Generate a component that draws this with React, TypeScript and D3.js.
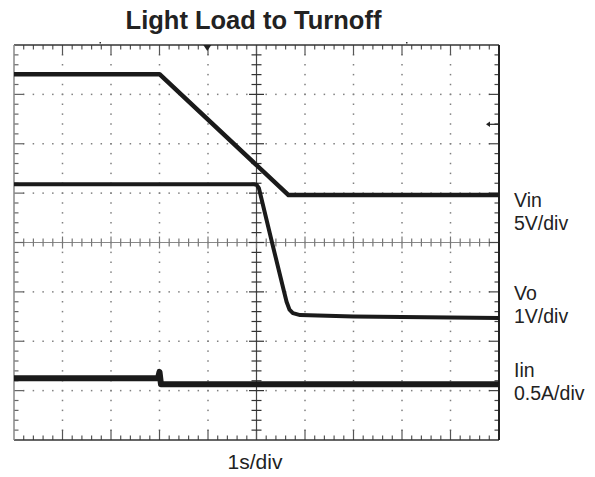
import React from "react";
import * as d3 from "d3";

// Time in seconds (1 s/div), levels in screen divisions (center = 0)
const vinT = [0, 3.0, 5.66, 10];
const vinV = [3.41, 3.41, 0.96, 0.96];

const voT = [0, 4.95, 5.0, 5.05, 5.32, 5.56, 5.62, 5.68, 5.75, 5.9, 7.0, 10];
const voV = [1.18, 1.18, 1.17, 1.1, 0.0, -0.96, -1.2, -1.36, -1.43, -1.47, -1.5, -1.53];

const iinT = [0, 2.97, 3.0, 3.03, 10];
const iinV = [-2.75, -2.75, -2.62, -2.87, -2.87];

const rightLabels = [
  { name: "Vin", scale: "5V/div", y: 206.7 },
  { name: "Vo", scale: "1V/div", y: 299.7 },
  { name: "Iin", scale: "0.5A/div", y: 376.7 },
];
const title = "Light Load to Turnoff";
const timeLabel = "1s/div";

const L = 14, R = 499, T = 45, B = 440;

export default function App() {
  const x = d3.scaleLinear().domain([0, 10]).range([L, R]);
  const y = d3.scaleLinear().domain([-4, 4]).range([B, T]);
  const line = d3.line<[number, number]>().x((d) => x(d[0])).y((d) => y(d[1]));
  const zip = (a: number[], b: number[]) => a.map((t, i) => [t, b[i]] as [number, number]);

  const minorX = d3.range(0, 50 + 1).map((i) => i / 5);
  const minorY = d3.range(0, 40 + 1).map((i) => -4 + i / 5);

  const dots: JSX.Element[] = [];
  for (let i = 1; i <= 9; i++) {
    if (i === 5) continue;
    minorY.forEach((v, j) => {
      if (j === 0 || j === 40) return;
      dots.push(<rect key={`vd${i}-${j}`} x={x(i) - 0.75} y={y(v) - 0.75} width={1.5} height={1.5} fill="#808080" />);
    });
  }
  for (let k = -3; k <= 3; k++) {
    if (k === 0) continue;
    minorX.forEach((t, j) => {
      if (j === 0 || j === 50) return;
      dots.push(<rect key={`hd${k}-${j}`} x={x(t) - 0.75} y={y(k) - 0.75} width={1.5} height={1.5} fill="#808080" />);
    });
  }

  const ticks: JSX.Element[] = [];
  minorX.forEach((t, j) => {
    if (j === 0 || j === 50) return;
    const major = j % 5 === 0;
    const len = major ? 10 : 4.5;
    ticks.push(<line key={`tt${j}`} x1={x(t)} x2={x(t)} y1={T} y2={T + len} stroke="#555" strokeWidth={1.2} />);
    ticks.push(<line key={`tb${j}`} x1={x(t)} x2={x(t)} y1={B} y2={B - len} stroke="#555" strokeWidth={1.2} />);
    const cl = major ? 6 : 4;
    ticks.push(<line key={`tc${j}`} x1={x(t)} x2={x(t)} y1={y(0) - cl} y2={y(0) + cl} stroke="#777" strokeWidth={1.2} />);
  });
  minorY.forEach((v, j) => {
    if (j === 0 || j === 40) return;
    const major = j % 5 === 0;
    const len = major ? 10 : 4.5;
    ticks.push(<line key={`tl${j}`} x1={L} x2={L + len} y1={y(v)} y2={y(v)} stroke="#666" strokeWidth={1.2} />);
    ticks.push(<line key={`tr${j}`} x1={R} x2={R - len} y1={y(v)} y2={y(v)} stroke="#444" strokeWidth={1.2} />);
    const cl = major ? 7.5 : 5;
    ticks.push(<line key={`tm${j}`} x1={x(5) - cl} x2={x(5) + cl} y1={y(v)} y2={y(v)} stroke="#333" strokeWidth={1.2} />);
  });

  return (
    <svg width={595} height={477} style={{ position: "absolute", left: 0, top: 0 }}>
      <rect width={595} height={477} fill="#fff" />
      {dots}
      <line x1={x(5)} x2={x(5)} y1={T} y2={B} stroke="#444" strokeWidth={1.2} />
      <line x1={L} x2={R} y1={y(0)} y2={y(0)} stroke="#888" strokeWidth={1.2} />
      {ticks}
      <line x1={L} x2={R} y1={T} y2={T} stroke="#333" strokeWidth={1.5} />
      <line x1={L} x2={R} y1={B} y2={B} stroke="#333" strokeWidth={1.5} />
      <line x1={L} x2={L} y1={T} y2={B} stroke="#888" strokeWidth={1.5} />
      <line x1={R} x2={R} y1={T} y2={B} stroke="#222" strokeWidth={2} />
      {/* markers */}
      <path d={`M${203.3},${T} L${211.3},${T} L${207.3},${T + 6} Z`} fill="#222" />
      <rect x={99.5} y={42} width={1.5} height={1.5} fill="#333" />
      <rect x={406} y={42} width={1.5} height={1.5} fill="#333" />
      <path d={`M486,124.3 L490,121.5 L490,127 Z`} fill="#222" />
      <line x1={488} x2={R} y1={124.3} y2={124.3} stroke="#222" strokeWidth={1.2} />
      {/* traces */}
      <path d={line(zip(iinT, iinV)) || ""} fill="none" stroke="#1a1a1a" strokeWidth={6} strokeLinejoin="round" />
      <path d={line(zip(voT, voV)) || ""} fill="none" stroke="#1a1a1a" strokeWidth={4} strokeLinejoin="round" />
      <path d={line(zip(vinT, vinV)) || ""} fill="none" stroke="#1a1a1a" strokeWidth={4.5} strokeLinejoin="round" />
      {/* text */}
      <text x={253.5} y={29.3} textAnchor="middle" fontFamily="Liberation Sans, Arial, sans-serif" fontWeight="bold" fontSize={25.5} fill="#222">
        {title}
      </text>
      <text x={255} y={469.3} textAnchor="middle" fontFamily="Liberation Sans, Arial, sans-serif" fontSize={21} fill="#222">
        {timeLabel}
      </text>
      {rightLabels.map((l) => (
        <g key={l.name}>
          <text x={514} y={l.y} fontFamily="Liberation Sans, Arial, sans-serif" fontSize={19.5} fill="#222">{l.name}</text>
          <text x={514} y={l.y + 23.3} fontFamily="Liberation Sans, Arial, sans-serif" fontSize={19.5} fill="#222">{l.scale}</text>
        </g>
      ))}
    </svg>
  );
}
